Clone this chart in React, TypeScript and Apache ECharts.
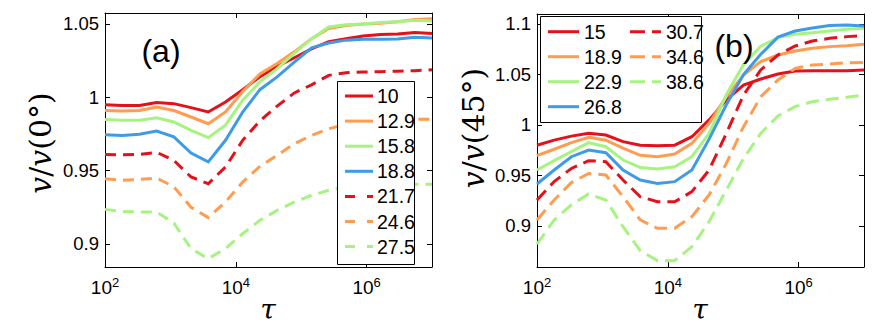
import React, { useEffect, useRef } from 'react';
import * as echarts from 'echarts';

// x grid (tau), log-spaced sample points
const tau = [100, 183, 336, 616, 1129, 2069, 3793, 6952, 12743, 23357, 42813, 78476, 143845, 263665, 483293, 885867, 1623777, 2976351, 5455595, 10000000];

// Panel (a): v / v(0°)
const namesA = ['10', '12.9', '15.8', '18.8', '21.7', '24.6', '27.5'];
const a10 = [0.995, 0.9945, 0.9945, 0.9964, 0.9957, 0.993, 0.990, 0.9968, 1.0052, 1.014, 1.021, 1.027, 1.033, 1.038, 1.040, 1.0418, 1.0428, 1.0432, 1.0442, 1.0435];
const a129 = [0.991, 0.9907, 0.991, 0.9934, 0.991, 0.9866, 0.982, 0.990, 1.004, 1.016, 1.023, 1.031, 1.040, 1.047, 1.049, 1.050, 1.0505, 1.0515, 1.053, 1.0535];
const a158 = [0.9848, 0.9843, 0.9843, 0.9861, 0.9832, 0.9775, 0.9725, 0.981, 0.998, 1.0105, 1.0196, 1.030, 1.040, 1.048, 1.0495, 1.050, 1.051, 1.0515, 1.0525, 1.052];
const a188 = [0.9745, 0.974, 0.9748, 0.977, 0.973, 0.962, 0.956, 0.9707, 0.990, 1.0052, 1.0139, 1.024, 1.0337, 1.037, 1.039, 1.0396, 1.0396, 1.0398, 1.041, 1.0405];
const a217 = [0.961, 0.9608, 0.961, 0.9625, 0.957, 0.9457, 0.9411, 0.9525, 0.9707, 0.984, 0.994, 1.003, 1.0085, 1.015, 1.0168, 1.0173, 1.0175, 1.0178, 1.0182, 1.0188];
const a246 = [0.9445, 0.9434, 0.944, 0.945, 0.939, 0.925, 0.918, 0.9286, 0.9422, 0.9529, 0.9604, 0.9684, 0.974, 0.9786, 0.9816, 0.9832, 0.9843, 0.9848, 0.985, 0.985];
const a275 = [0.9236, 0.9222, 0.9218, 0.9218, 0.9143, 0.8968, 0.890, 0.8968, 0.907, 0.9161, 0.9229, 0.9286, 0.9332, 0.9366, 0.939, 0.940, 0.9405, 0.9407, 0.9407, 0.9407];

// Panel (b): v / v(45°)
const namesB = ['15', '18.9', '22.9', '26.8', '30.7', '34.6', '38.6'];
const b15 = [0.980, 0.985, 0.989, 0.9917, 0.990, 0.9835, 0.980, 0.9795, 0.980, 0.9884, 1.005, 1.0248, 1.0396, 1.0455, 1.0505, 1.0535, 1.0538, 1.0538, 1.0538, 1.0545];
const b189 = [0.9696, 0.976, 0.9825, 0.9878, 0.985, 0.977, 0.970, 0.9686, 0.9713, 0.9818, 1.0017, 1.028, 1.0495, 1.0627, 1.0693, 1.0733, 1.076, 1.0776, 1.0785, 1.080];
const b229 = [0.9554, 0.9647, 0.9736, 0.9825, 0.9785, 0.9653, 0.958, 0.9564, 0.9587, 0.9686, 0.9917, 1.030, 1.060, 1.078, 1.0865, 1.0898, 1.0914, 1.093, 1.0947, 1.0957];
const b268 = [0.9416, 0.9554, 0.9686, 0.9752, 0.9726, 0.9554, 0.9455, 0.9422, 0.9439, 0.9554, 0.986, 1.020, 1.050, 1.070, 1.087, 1.093, 1.096, 1.0985, 1.099, 1.098];
const b307 = [0.9257, 0.944, 0.957, 0.9647, 0.9637, 0.9455, 0.929, 0.924, 0.924, 0.934, 0.9554, 0.9917, 1.0297, 1.0545, 1.0693, 1.0782, 1.0832, 1.0858, 1.0875, 1.0884];
const b346 = [0.906, 0.9257, 0.943, 0.952, 0.9505, 0.929, 0.906, 0.8977, 0.8977, 0.9092, 0.9307, 0.962, 0.9983, 1.028, 1.0446, 1.056, 1.0594, 1.0604, 1.0617, 1.062];
const b386 = [0.882, 0.906, 0.921, 0.9317, 0.9257, 0.8993, 0.8756, 0.8657, 0.8657, 0.8795, 0.9043, 0.9356, 0.967, 0.9917, 1.009, 1.0182, 1.023, 1.0254, 1.0274, 1.0297];

const valuesA = [a10, a129, a158, a188, a217, a246, a275];
const valuesB = [b15, b189, b229, b268, b307, b346, b386];

const xTicks = [100, 10000, 1000000];
const yTicksA = [0.9, 0.95, 1, 1.05];
const yTicksB = [0.9, 0.95, 1, 1.05, 1.1];

const RED = '#e6101a';
const ORANGE = '#ff9c50';
const GREEN = '#a6f382';
const BLUE = '#3d9be8';
const COLORS = [RED, ORANGE, GREEN, BLUE, RED, ORANGE, GREEN];
const DASHED = [false, false, false, false, true, true, true];

const SANS = '"Liberation Sans", Arial, Helvetica, sans-serif';
const SERIF = '"DejaVu Serif", "Liberation Serif", serif';

function xAxisOpt(grid: number, position: 'bottom' | 'top', showLabel: boolean) {
  return {
    type: 'log',
    logBase: 10,
    gridIndex: grid,
    position,
    min: 100,
    max: 10000000,
    axisLine: { show: true, onZero: false, lineStyle: { color: '#000', width: 1 } },
    axisTick: { show: true, inside: true, length: 5, customValues: xTicks, lineStyle: { color: '#000', width: 1 } },
    minorTick: { show: false },
    splitLine: { show: false },
    axisLabel: {
      show: showLabel,
      customValues: xTicks,
      margin: 9,
      fontSize: 19,
      fontFamily: SANS,
      color: '#000',
      formatter: (v: number) => `{b|10}{s|${Math.round(Math.log10(v))}}`,
      rich: {
        b: { fontSize: 19, fontFamily: SANS, color: '#000' },
        s: { fontSize: 13, fontFamily: SANS, color: '#000', padding: [0, 0, 10, 0] },
      },
    },
  };
}

function yAxisOpt(grid: number, position: 'left' | 'right', min: number, max: number, ticks: number[], showLabel: boolean) {
  return {
    type: 'value',
    gridIndex: grid,
    position,
    min,
    max,
    axisLine: { show: true, onZero: false, lineStyle: { color: '#000', width: 1 } },
    axisTick: { show: true, inside: true, length: 5, customValues: ticks, lineStyle: { color: '#000', width: 1 } },
    splitLine: { show: false },
    axisLabel: {
      show: showLabel,
      customValues: ticks,
      margin: 6,
      fontSize: 18.5,
      fontFamily: SANS,
      color: '#000',
      formatter: (v: number) => String(Number(v.toFixed(2))),
    },
  };
}

function makeSeries(names: string[], values: number[][], grid: number, dash: number[]) {
  return names.map((name, i) => ({
    type: 'line',
    name,
    xAxisIndex: grid * 2,
    yAxisIndex: grid * 2,
    data: tau.map((t, k) => [t, values[i][k]]),
    symbol: 'none',
    showSymbol: false,
    silent: true,
    lineStyle: { color: COLORS[i], width: 3, type: DASHED[i] ? dash : 'solid', cap: 'butt', join: 'miter' },
    itemStyle: { color: COLORS[i] },
  }));
}

function legendGraphics(names: string[], x0: number, y0: number, rowGap: number, colW: number, sampleW: number, textGap: number, perCol: number, dash: number[]) {
  const els: any[] = [];
  names.forEach((name, i) => {
    const col = Math.floor(i / perCol);
    const row = i % perCol;
    const sx = x0 + col * colW;
    const y = y0 + row * rowGap;
    els.push({
      type: 'line',
      z: 101,
      shape: { x1: sx, y1: y, x2: sx + sampleW, y2: y },
      style: { stroke: COLORS[i], lineWidth: 3, lineDash: DASHED[i] ? dash : null, lineCap: 'butt' },
    });
    els.push({
      type: 'text',
      z: 101,
      x: sx + sampleW + textGap,
      y,
      style: { text: name, fontSize: 19.5, fontFamily: SANS, fill: '#000', align: 'left', verticalAlign: 'middle', textAlign: 'left', textVerticalAlign: 'middle' },
    });
  });
  return els;
}

export default function App() {
  const ref = useRef<HTMLDivElement>(null);
  useEffect(() => {
    document.body.style.margin = '0';
    if (!ref.current) return;
    const chart = echarts.init(ref.current, undefined, { renderer: 'svg' });
    const center = { align: 'center', verticalAlign: 'middle', textAlign: 'center', textVerticalAlign: 'middle' };
    const graphic: any[] = [
      // legend (a)
      { type: 'rect', z: 100, shape: { x: 337.5, y: 81.5, width: 77, height: 183 }, style: { fill: '#fff', stroke: '#000', lineWidth: 1 } },
      ...legendGraphics(namesA, 345, 96, 25.1, 0, 28, 4, 7, [10, 12]),
      // legend (b)
      { type: 'rect', z: 100, shape: { x: 540.5, y: 16.5, width: 161, height: 106 }, style: { fill: '#fff', stroke: '#000', lineWidth: 1 } },
      ...legendGraphics(namesB, 548, 31.7, 25, 82, 31, 5, 4, [15, 7]),
      // panel labels
      { type: 'text', z: 102, x: 161, y: 51, style: { text: '(a)', fontSize: 32, fontFamily: SANS, fill: '#000', ...center } },
      { type: 'text', z: 102, x: 734, y: 46, style: { text: '(b)', fontSize: 32, fontFamily: SANS, fill: '#000', ...center } },
      // axis titles
      {
        type: 'text', z: 102, x: 40, y: 143, rotation: Math.PI / 2,
        style: {
          text: '{i|v}/{i|v}(0°)', fontSize: 30, fontFamily: SERIF, fill: '#000', ...center,
          rich: { i: { fontStyle: 'italic', fontSize: 30, fontFamily: SERIF, fill: '#000' } },
        },
      },
      {
        type: 'text', z: 102, x: 473, y: 128, rotation: Math.PI / 2,
        style: {
          text: '{i|v}/{i|v}(45°)', fontSize: 30, fontFamily: SERIF, fill: '#000', ...center,
          rich: { i: { fontStyle: 'italic', fontSize: 30, fontFamily: SERIF, fill: '#000' } },
        },
      },
      { type: 'text', z: 102, x: 268, y: 309, style: { text: 'τ', fontSize: 28, fontStyle: 'italic', fontFamily: SERIF, fill: '#000', ...center } },
      { type: 'text', z: 102, x: 700, y: 309, style: { text: 'τ', fontSize: 28, fontStyle: 'italic', fontFamily: SERIF, fill: '#000', ...center } },
    ];
    chart.setOption({
      animation: false,
      backgroundColor: '#fff',
      grid: [
        { left: 105, top: 13, width: 327, height: 254, containLabel: false },
        { left: 537, top: 14, width: 327, height: 253, containLabel: false },
      ],
      xAxis: [
        xAxisOpt(0, 'bottom', true),
        xAxisOpt(0, 'top', false),
        xAxisOpt(1, 'bottom', true),
        xAxisOpt(1, 'top', false),
      ],
      yAxis: [
        yAxisOpt(0, 'left', 0.8843, 1.0575, yTicksA, true),
        yAxisOpt(0, 'right', 0.8843, 1.0575, yTicksA, false),
        yAxisOpt(1, 'left', 0.8594, 1.1099, yTicksB, true),
        yAxisOpt(1, 'right', 0.8594, 1.1099, yTicksB, false),
      ],
      series: [...makeSeries(namesA, valuesA, 0, [11, 7]), ...makeSeries(namesB, valuesB, 1, [13, 7])],
      graphic,
    });
    return () => chart.dispose();
  }, []);
  return <div ref={ref} style={{ width: 872, height: 335 }} />;
}
